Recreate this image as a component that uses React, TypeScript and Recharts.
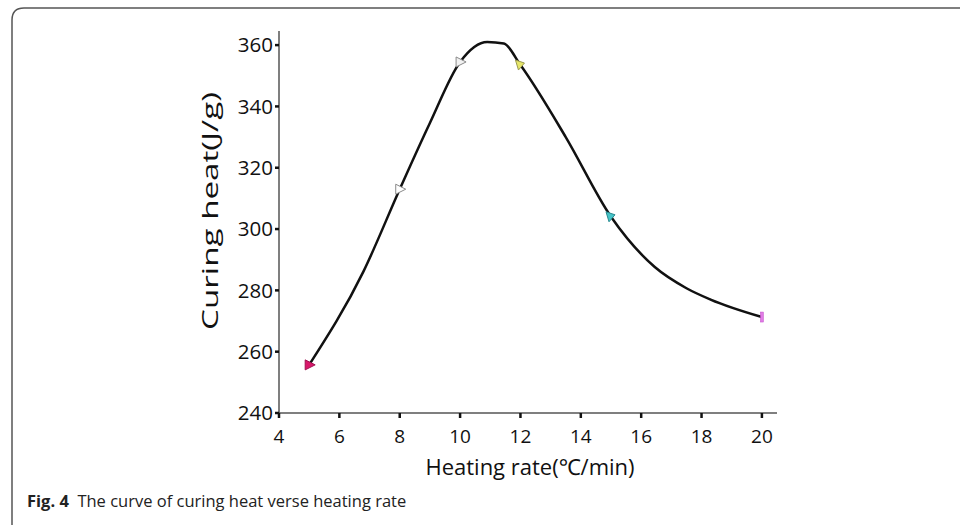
import { ComposedChart, Line, Scatter, XAxis, YAxis } from "recharts"

const X_TICKS = [4, 6, 8, 10, 12, 14, 16, 18, 20]
const Y_TICKS = [240, 260, 280, 300, 320, 340, 360]

// measured points (markers)
const RATE = [5, 8, 10, 12, 15, 20]
const HEAT = [255.7, 313, 354.5, 353.5, 304, 271.3]

// traced curve through the points
const CURVE_X = [5, 6.8, 8, 9, 10, 10.9, 11.45, 12, 13.5, 15, 16.45, 17.5, 18.3, 20]
const CURVE_Y = [255.7, 286.2, 313, 334.6, 354.5, 361, 360.5, 353.5, 330, 304, 287.6, 280.7, 277, 271.3]

const POINTS = RATE.map((x, i) => ({ x, y: HEAT[i], i }))
const CURVE = CURVE_X.map((x, i) => ({ x, y: CURVE_Y[i] }))

const MARKER_STYLE = [
  { fill: "#d8176a", stroke: "#a01050", kind: "right" },
  { fill: "#ffffff", stroke: "#8a8a8a", kind: "right" },
  { fill: "#f2f2f2", stroke: "#8a8a8a", kind: "right" },
  { fill: "#e6e66a", stroke: "#9a9a50", kind: "upleft" },
  { fill: "#45c4c8", stroke: "#2a8a90", kind: "upleft" },
  { fill: "#e27ae6", stroke: "#c050c8", kind: "bar" },
]

const FONT = "'Open Sans', 'Noto Sans', sans-serif"

const Marker = (props: any) => {
  const { cx, cy, payload } = props
  const st = MARKER_STYLE[payload.i]
  if (st.kind === "bar") {
    return <rect x={cx - 1.5} y={cy - 5} width={3} height={10} fill={st.fill} stroke={st.stroke} strokeWidth={0.5} />
  }
  const pts =
    st.kind === "right"
      ? `${cx - 4},${cy - 5} ${cx + 6},${cy} ${cx - 4},${cy + 5}`
      : `${cx - 5},${cy - 5} ${cx + 4},${cy - 2} ${cx - 2},${cy + 5}`
  return <polygon points={pts} fill={st.fill} stroke={st.stroke} strokeWidth={1} />
}

const YTitle = (props: any) => {
  const { viewBox } = props
  const x = viewBox.x + viewBox.width - 70
  const y = viewBox.y + viewBox.height / 2 - 11
  return (
    <text
      x={x}
      y={y}
      transform={`rotate(-90, ${x}, ${y})`}
      textAnchor="middle"
      dominantBaseline="central"
      fontFamily={FONT}
      fontSize={22}
      fill="#111"
      textLength={238}
      lengthAdjust="spacingAndGlyphs"
    >
      Curing heat(J/g)
    </text>
  )
}

const XTitle = (props: any) => {
  const { viewBox } = props
  const x = viewBox.x + viewBox.width / 2 + 2
  const y = viewBox.y + 53
  return (
    <text x={x} y={y} textAnchor="middle" dominantBaseline="central" fontFamily={FONT} fontSize={22} fill="#111">
      Heating rate(℃/min)
    </text>
  )
}

export default function App() {
  return (
    <div style={{ position: "absolute", left: 0, top: 0, width: 960, height: 525, background: "#fff" }}>
      <svg width={960} height={525} style={{ position: "absolute", left: 0, top: 0 }}>
        <path d="M 12 525 L 12 20 Q 12 8 24 8 L 960 8" fill="none" stroke="#555" strokeWidth={1.5} />
      </svg>
      <div style={{ position: "absolute", left: 0, top: 0 }}>
        <ComposedChart width={960} height={525} margin={{ top: 31, right: 183, bottom: 82, left: 0 }}>
          <XAxis
            type="number"
            dataKey="x"
            domain={[4, 20.5]}
            ticks={X_TICKS}
            allowDataOverflow
            height={30}
            tickSize={5}
            tickMargin={12}
            axisLine={{ stroke: "#555", strokeWidth: 1.5 }}
            tickLine={{ stroke: "#111", strokeWidth: 2.5 }}
            tick={{ fontFamily: FONT, fontSize: 19, fill: "#111" }}
            label={<XTitle />}
          />
          <YAxis
            type="number"
            dataKey="y"
            domain={[240, 364.6]}
            ticks={Y_TICKS}
            allowDataOverflow
            width={279}
            tickSize={4}
            tickMargin={2}
            axisLine={{ stroke: "#555", strokeWidth: 1.5 }}
            tickLine={{ stroke: "#111", strokeWidth: 2.5 }}
            tick={{ fontFamily: FONT, fontSize: 20.5, fill: "#111" }}
            label={<YTitle />}
          />
          <Line
            data={CURVE}
            dataKey="y"
            type="monotone"
            stroke="#111"
            strokeWidth={2.5}
            dot={false}
            activeDot={false}
            isAnimationActive={false}
          />
          <Scatter data={POINTS} dataKey="y" shape={<Marker />} isAnimationActive={false} />
        </ComposedChart>
      </div>
      <div
        style={{
          position: "absolute",
          left: 27,
          top: 489,
          fontFamily: FONT,
          fontSize: 16.5,
          color: "#222",
          whiteSpace: "nowrap",
        }}
      >
        <b>Fig. 4</b>&nbsp; The curve of curing heat verse heating rate
      </div>
    </div>
  )
}
